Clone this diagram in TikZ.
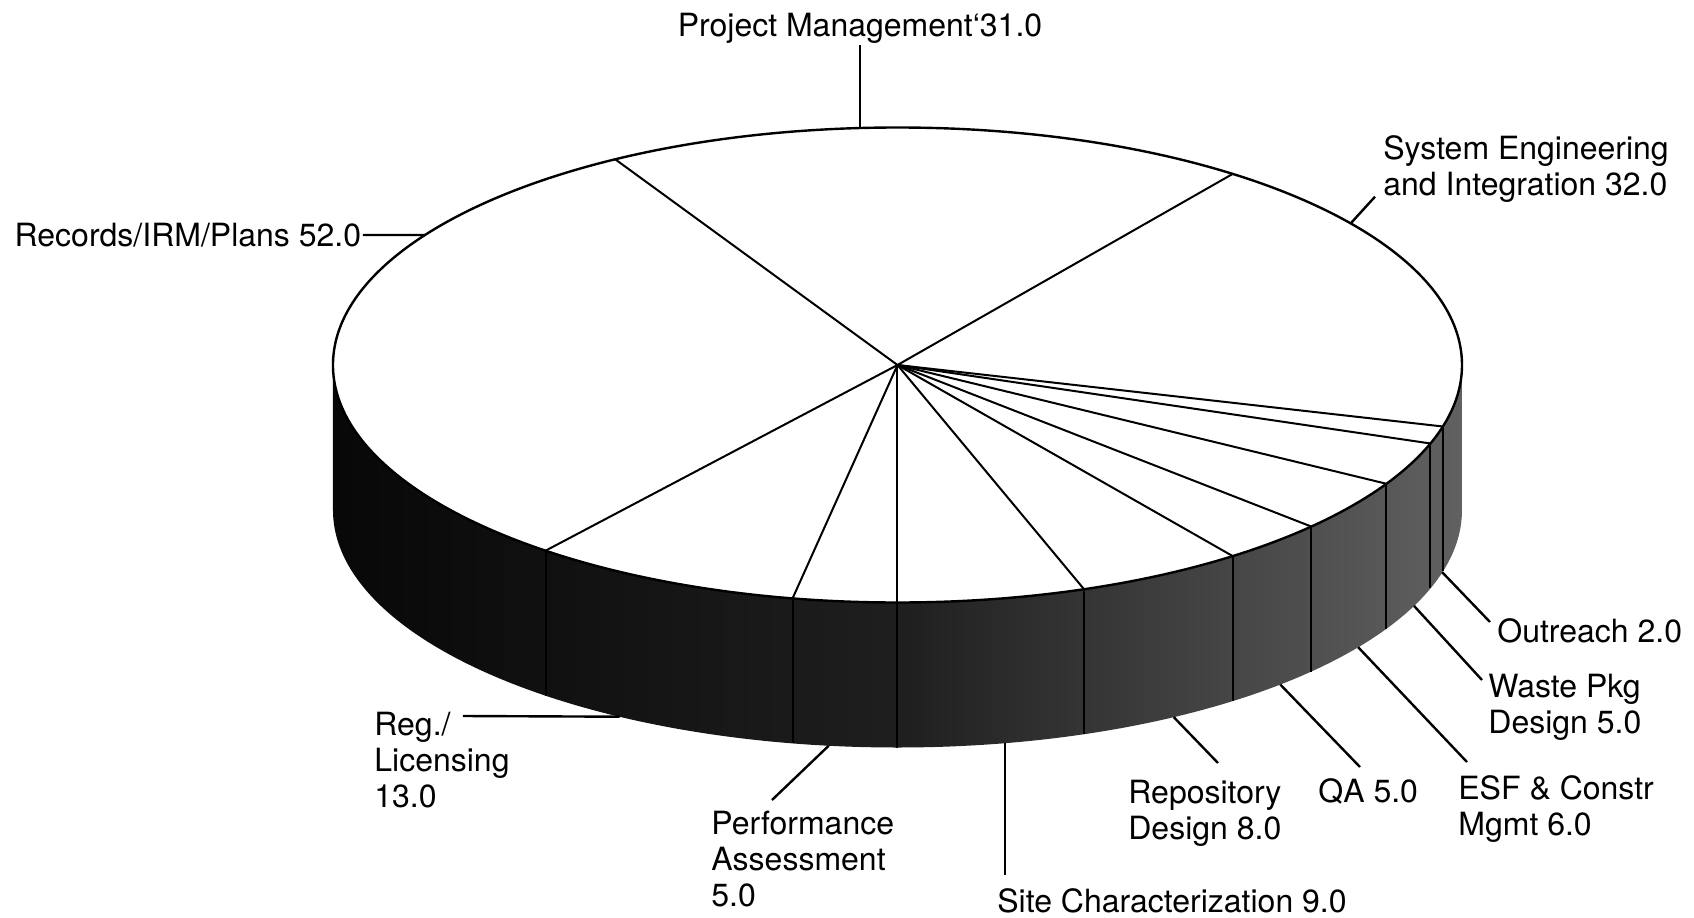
\documentclass[tikz,border=0pt]{standalone}
\usepackage{fontspec}
\setmainfont{TeX Gyre Heros}
\usetikzlibrary{calc}
\tikzset{
  pielabel/.style={inner sep=0pt, align=left, font=\fontsize{16}{18}\selectfont},
  leader/.style={line width=1.2pt},
  spoke/.style={line width=1pt},
}

\begin{document}
\begin{tikzpicture}[x=0.5pt,y=0.5pt]
\useasboundingbox (-897.5,365) rectangle (796.5,-552);

% side of the pie
\shade[left color=black!97, right color=black!62, middle color=black!88]
  (-564.5,0) arc[start angle=180, end angle=360, x radius=564.5, y radius=237.5]
  -- (564.5,-145) arc[start angle=0, end angle=-180, x radius=564.5, y radius=237.5] -- cycle;
\foreach \a in {231.43,259.29,270,289.29,306.43,317.14,330,340.71,345}
  \draw[spoke] (\a:564.5 and 237.5) -- ++(0,-145);

% top of the pie
\draw[fill=white, line width=1.2pt] (0,0) ellipse[x radius=564.5, y radius=237.5];
\foreach \a in {-15,53.57,120,231.43,259.29,270,289.29,306.43,317.14,330,340.71}
  \draw[spoke] (0,0) -- (\a:564.5 and 237.5);

% labels
\node[pielabel, anchor=base] (pm) at (-37.5,328.5) {Project Management`31.0};
\node[pielabel, anchor=north west] (sei) at (485.5,229.5) {System Engineering\\and Integration 32.0};
\node[pielabel, anchor=base east] (rec) at (-536,118.5) {Records/IRM/Plans 52.0};
\node[pielabel, anchor=north west] (reg) at (-523.5,-346.5) {Reg./\\Licensing\\13.0};
\node[pielabel, anchor=north west] (pa) at (-186.5,-445.5) {Performance\\Assessment\\5.0};
\node[pielabel, anchor=north west] (site) at (99.5,-523) {Site Characterization 9.0};
\node[pielabel, anchor=north west] (repo) at (230.5,-415.2) {Repository\\Design 8.0};
\node[pielabel, anchor=north west] (qa) at (420.5,-413.5) {QA 5.0};
\node[pielabel, anchor=north west] (esf) at (560.5,-410.2) {ESF \& Constr\\Mgmt 6.0};
\node[pielabel, anchor=north west] (waste) at (590.5,-308.5) {Waste Pkg\\Design 5.0};
\node[pielabel, anchor=north west] (out) at (599.5,-253.5) {Outreach 2.0};

% leader lines
\coordinate (pm-p) at (93.8:564.5 and 237.5);
\coordinate (sei-p) at (36.6:564.5 and 237.5);
\coordinate (rec-p) at (146.8:564.5 and 237.5);
\coordinate (reg-p) at ($(0,-145)+(240.5:564.5 and 237.5)$);
\coordinate (pa-p) at ($(0,-145)+(263:564.5 and 237.5)$);
\coordinate (site-p) at ($(0,-145)+(281:564.5 and 237.5)$);
\coordinate (repo-p) at ($(0,-145)+(299.3:564.5 and 237.5)$);
\coordinate (qa-p) at ($(0,-145)+(312.7:564.5 and 237.5)$);
\coordinate (esf-p) at ($(0,-145)+(324.7:564.5 and 237.5)$);
\coordinate (waste-p) at ($(0,-145)+(336.2:564.5 and 237.5)$);
\coordinate (out-p) at ($(0,-145)+(344.8:564.5 and 237.5)$);

\coordinate (pm-e) at (pm-p |- 0,320);
\coordinate (sei-e) at (477.5,168.3);
\coordinate (rec-e) at (-534.5,130);
\coordinate (reg-e) at (-434.5,-351);
\coordinate (pa-e) at (-125.5,-435);
\coordinate (site-e) at (site-p |- 0,-510);
\coordinate (repo-e) at (320.5,-398);
\coordinate (qa-e) at (462.5,-402);
\coordinate (esf-e) at (569.5,-397);
\coordinate (waste-e) at (584.5,-315);
\coordinate (out-e) at (592.5,-257);

\draw[leader] (pm-p) -- (pm-e);
\draw[leader] (sei-p) -- (sei-e);
\draw[leader] (rec-p) -- (rec-e);
\draw[leader] (reg-p) -- (reg-e);
\draw[leader] (pa-p) -- (pa-e);
\draw[leader] (site-p) -- (site-e);
\draw[leader] (repo-p) -- (repo-e);
\draw[leader] (qa-p) -- (qa-e);
\draw[leader] (esf-p) -- (esf-e);
\draw[leader] (waste-p) -- (waste-e);
\draw[leader] (out-p) -- (out-e);
\end{tikzpicture}
\end{document}
